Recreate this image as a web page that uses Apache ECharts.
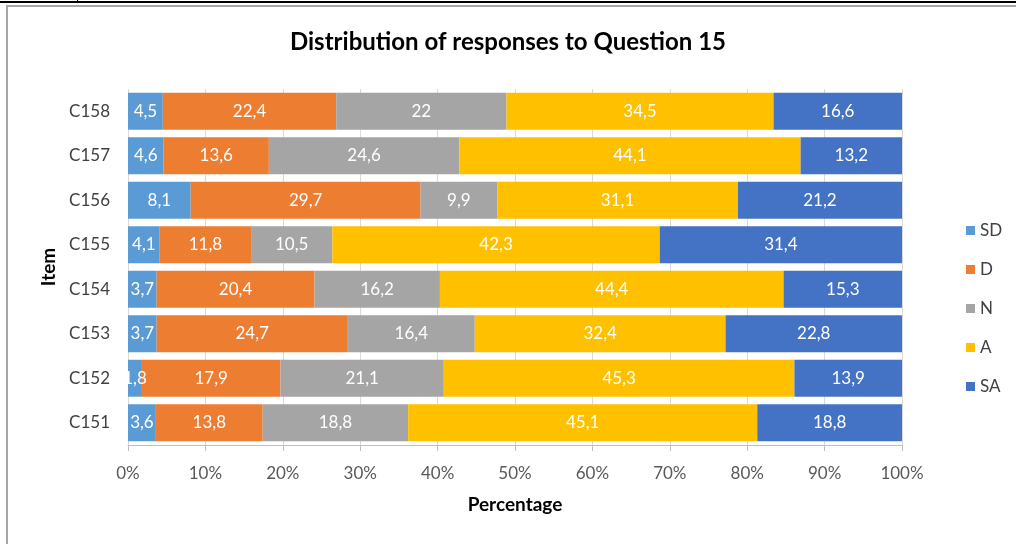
<!DOCTYPE html>
<html>
<head>
<meta charset="utf-8">
<script src="https://cdn.jsdelivr.net/npm/echarts@6/dist/echarts.min.js"></script>
<style>
html, body { margin: 0; padding: 0; background: #fff; }
#wrap { position: relative; width: 1016px; height: 544px; overflow: hidden; }
#main { position: absolute; left: 0; top: 0; width: 1016px; height: 544px; }
.topline { position: absolute; left: 0; top: 1px; width: 1016px; height: 2px; background: #000; }
.toptick { position: absolute; left: 77px; top: 0; width: 1px; height: 2px; background: #000; }
.box { position: absolute; left: 6px; top: 5px; width: 1020px; height: 560px; border-left: 2px solid #a6a6a6; border-top: 2px solid #a6a6a6; }
</style>
</head>
<body>
<div id="wrap">
  <div class="topline"></div>
  <div class="toptick"></div>
  <div class="box"></div>
  <div id="main"></div>
</div>
<script>
// items, bottom to top
var items = ['C151', 'C152', 'C153', 'C154', 'C155', 'C156', 'C157', 'C158'];
var levels = ['SD', 'D', 'N', 'A', 'SA'];
var sdData = [3.6, 1.8, 3.7, 3.7, 4.1, 8.1, 4.6, 4.5];
var dData  = [13.8, 17.9, 24.7, 20.4, 11.8, 29.7, 13.6, 22.4];
var nData  = [18.8, 21.1, 16.4, 16.2, 10.5, 9.9, 24.6, 22];
var aData  = [45.1, 45.3, 32.4, 44.4, 42.3, 31.1, 44.1, 34.5];
var saData = [18.8, 13.9, 22.8, 15.3, 31.4, 21.2, 13.2, 16.6];
var colors = ['#5B9BD5', '#ED7D31', '#A5A5A5', '#FFC000', '#4472C4'];

var font = 'Lato';
var allData = [sdData, dData, nData, aData, saData];

var series = [];
for (var i = 0; i < levels.length; i++) {
    series.push({
        name: levels[i],
        type: 'bar',
        stack: 'total',
        barCategoryGap: '17%',
        itemStyle: { color: colors[i] },
        label: {
            show: true,
            color: '#fff',
            fontFamily: font,
            fontSize: 17,
            formatter: function(p) {
                return String(p.value).replace('.', ',');
            }
        },
        data: allData[i]
    });
}

var option = {
    animation: false,
    title: {
        text: 'Distribution of responses to Question 15',
        left: 'center',
        top: 25,
        textStyle: {
            fontFamily: font,
            fontSize: 24,
            fontWeight: 'bold',
            color: '#000'
        }
    },
    legend: {
        orient: 'vertical',
        left: 961,
        top: 217,
        itemGap: 22,
        itemWidth: 9,
        itemHeight: 9,
        icon: 'rect',
        textStyle: { fontFamily: font, fontSize: 17, color: '#404040' },
        data: levels
    },
    grid: {
        left: 128,
        right: 114,
        top: 89,
        bottom: 99
    },
    xAxis: {
        type: 'value',
        min: 0,
        max: 100,
        interval: 10,
        name: 'Percentage',
        nameLocation: 'middle',
        nameGap: 50,
        nameTextStyle: { fontFamily: font, fontSize: 19, fontWeight: 'bold', color: '#000' },
        axisLine: { show: true, lineStyle: { color: '#bfbfbf' } },
        axisTick: { show: true, length: 6, lineStyle: { color: '#bfbfbf' } },
        splitLine: { show: true, lineStyle: { color: '#d9d9d9' } },
        axisLabel: {
            fontFamily: font,
            fontSize: 17,
            color: '#595959',
            margin: 20,
            formatter: '{value}%'
        }
    },
    yAxis: {
        type: 'category',
        data: items,
        name: 'Item',
        nameLocation: 'middle',
        nameGap: 67,
        nameRotate: 90,
        nameTextStyle: { fontFamily: font, fontSize: 19, fontWeight: 'bold', color: '#000' },
        axisLine: { show: false },
        axisTick: { show: false },
        axisLabel: {
            fontFamily: font,
            fontSize: 17,
            color: '#404040',
            margin: 18
        }
    },
    series: series
};

var myChart = echarts.init(document.getElementById('main'));
myChart.setOption(option);
</script>
</body>
</html>
